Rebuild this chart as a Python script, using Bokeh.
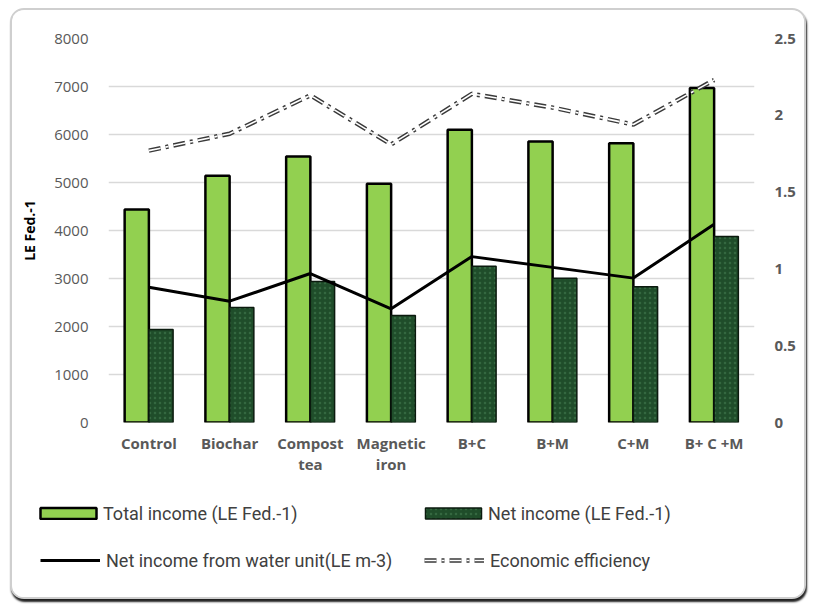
from bokeh.plotting import figure
from bokeh.layouts import column
from bokeh.models import (ColumnDataSource, Range1d, LinearAxis, FixedTicker,
                          NumeralTickFormatter, Legend, LegendItem)
from bokeh.transform import dodge
from bokeh.embed import file_html
from bokeh.resources import INLINE

# ---------------- data ----------------
categories = ["Control", "Biochar", "Compost tea", "Magnetic iron", "B+C", "B+M", "C+M", "B+ C +M"]
label_line1 = ["Control", "Biochar", "Compost", "Magnetic", "B+C", "B+M", "C+M", "B+ C +M"]
label_line2 = ["", "", "tea", "iron", "", "", "", ""]
total_income = [4440, 5140, 5540, 4975, 6100, 5855, 5820, 6970]
net_income = [1935, 2395, 2935, 2230, 3255, 3005, 2830, 3875]
water_unit_income = [0.88, 0.79, 0.97, 0.74, 1.08, 1.01, 0.94, 1.29]
economic_efficiency = [1.77, 1.88, 2.13, 1.81, 2.14, 2.05, 1.94, 2.23]
left_ticks = [0, 1000, 2000, 3000, 4000, 5000, 6000, 7000, 8000]
right_ticks = [0, 0.5, 1, 1.5, 2, 2.5]

idx = list(range(len(categories)))
source = ColumnDataSource(dict(x=idx, cat=categories, total=total_income, net=net_income,
                               water=water_unit_income, eff=economic_efficiency))

AXIS_FONT = "Open Sans"
LEG_FONT = "Roboto"
W = 792

p = figure(width=W, height=470, x_range=Range1d(-0.5, len(categories) - 0.5),
           y_range=Range1d(0, 8000), output_backend="svg", toolbar_location=None,
           min_border_left=96, min_border_right=50, min_border_top=28, min_border_bottom=58)
p.frame_align = False
p.outline_line_color = None
p.background_fill_color = "white"
p.border_fill_color = "white"
p.xgrid.grid_line_color = None
p.ygrid.grid_line_color = "#d9d9d9"
p.ygrid.grid_line_width = 1.3
p.extra_y_ranges = {"right": Range1d(0, 2.5)}

# left axis
ya = p.yaxis[0]
ya.ticker = FixedTicker(ticks=left_ticks)
ya.axis_line_color = None
ya.major_tick_line_color = None
ya.minor_tick_line_color = None
ya.major_label_text_font = AXIS_FONT
ya.major_label_text_font_size = "15px"
ya.major_label_text_color = "#595959"
ya.major_label_standoff = 14
ya.axis_label = "LE Fed.-1"
ya.axis_label_text_font = AXIS_FONT
ya.axis_label_text_font_style = "bold"
ya.axis_label_text_font_size = "14px"
ya.axis_label_text_color = "black"
ya.axis_label_standoff = 12

# right axis
ra = LinearAxis(y_range_name="right", ticker=FixedTicker(ticks=right_ticks),
                formatter=NumeralTickFormatter(format="0.[0]"))
ra.axis_line_color = None
ra.major_tick_line_color = None
ra.minor_tick_line_color = None
ra.major_label_text_font = AXIS_FONT
ra.major_label_text_font_style = "bold"
ra.major_label_text_font_size = "15px"
ra.major_label_text_color = "#595959"
ra.major_label_standoff = 14
p.add_layout(ra, "right")


def style_x(ax, standoff):
    ax.axis_line_color = None
    ax.major_tick_line_color = None
    ax.minor_tick_line_color = None
    ax.major_label_text_font = AXIS_FONT
    ax.major_label_text_font_style = "bold"
    ax.major_label_text_font_size = "15px"
    ax.major_label_text_color = "#595959"
    ax.major_label_standoff = standoff


# bottom axis: first line of the category names
xa = p.xaxis[0]
xa.ticker = FixedTicker(ticks=idx)
style_x(xa, 4)
xa.major_label_overrides = {i: t for i, t in zip(idx, label_line1)}
# second line of the category names (only where there is one)
idx2 = [i for i, t in zip(idx, label_line2) if t]
xa2 = LinearAxis(ticker=FixedTicker(ticks=idx2),
                 major_label_overrides={i: label_line2[i] for i in idx2})
style_x(xa2, -8)
p.add_layout(xa2, "below")

# styles
bar_total = dict(fill_color="#92D050", line_color="black", line_width=2.5)
bar_net = dict(fill_color="#1f4d2a", line_color="#0b1a0e", line_width=1.5,
               hatch_pattern="dot", hatch_color="#4d8a5c", hatch_scale=5, hatch_alpha=0.45)
line_water = dict(line_color="black", line_width=3)
line_eff_a = dict(line_color="#3a3a3a", line_width=4.5, line_dash="12 5 3 5")
line_eff_b = dict(line_color="white", line_width=1.6, line_dash="12 5 3 5")

# bars and lines
p.vbar(x=dodge("x", -0.15), top="total", width=0.3, source=source, **bar_total)
p.vbar(x=dodge("x", 0.15), top="net", width=0.3, source=source, **bar_net)
p.line(x="x", y="water", source=source, y_range_name="right", **line_water)
p.line(x="x", y="eff", source=source, y_range_name="right", **line_eff_a)
p.line(x="x", y="eff", source=source, y_range_name="right", **line_eff_b)

# ---------------- legend panel (same data, ranges far outside it) ----------------
pl = figure(width=W, height=117, x_range=Range1d(100, 101), y_range=Range1d(100000, 100001),
            x_axis_type=None, y_axis_type=None, output_backend="svg", toolbar_location=None,
            min_border=0)
pl.frame_align = False
pl.outline_line_color = None
pl.grid.visible = False
pl.border_fill_color = "white"
pl.background_fill_color = "white"
lr_total = pl.vbar(x=dodge("x", -0.15), top="total", width=0.3, source=source, **bar_total)
lr_net = pl.vbar(x=dodge("x", 0.15), top="net", width=0.3, source=source, **bar_net)
lr_water = pl.line(x="x", y="water", source=source, **line_water)
lr_eff_a = pl.line(x="x", y="eff", source=source, **line_eff_a)
lr_eff_b = pl.line(x="x", y="eff", source=source, **line_eff_b)


def make_legend(items, loc, gw, gh, standoff, lw):
    lg = Legend(items=items, location=loc, orientation="horizontal",
                padding=0, margin=0, spacing=0, glyph_width=gw, glyph_height=gh,
                label_standoff=standoff, label_height=24, label_width=lw,
                label_text_font=LEG_FONT, label_text_font_size="18px",
                label_text_color="#404040", border_line_color=None,
                background_fill_alpha=0, inactive_fill_alpha=0)
    pl.add_layout(lg, "center")


make_legend([LegendItem(label="Total income (LE Fed.-1)", renderers=[lr_total]),
             LegendItem(label="Net income (LE Fed.-1)", renderers=[lr_net])],
            (21, 72), 70, 14, 0, 315)
make_legend([LegendItem(label="Net income from water unit(LE m-3)", renderers=[lr_water]),
             LegendItem(label="Economic efficiency", renderers=[lr_eff_a, lr_eff_b])],
            (28, 25), 60, 24, 6, 318)

layout = column(p, pl, spacing=0)
layout.styles = {"margin-left": "10px", "margin-top": "8px", "border": "2px solid #cfcfcf",
                 "border-radius": "14px", "overflow": "hidden", "background": "white",
                 "box-shadow": "1px 3px 2px #222"}

open("out.html", "w").write(file_html(layout, INLINE))
